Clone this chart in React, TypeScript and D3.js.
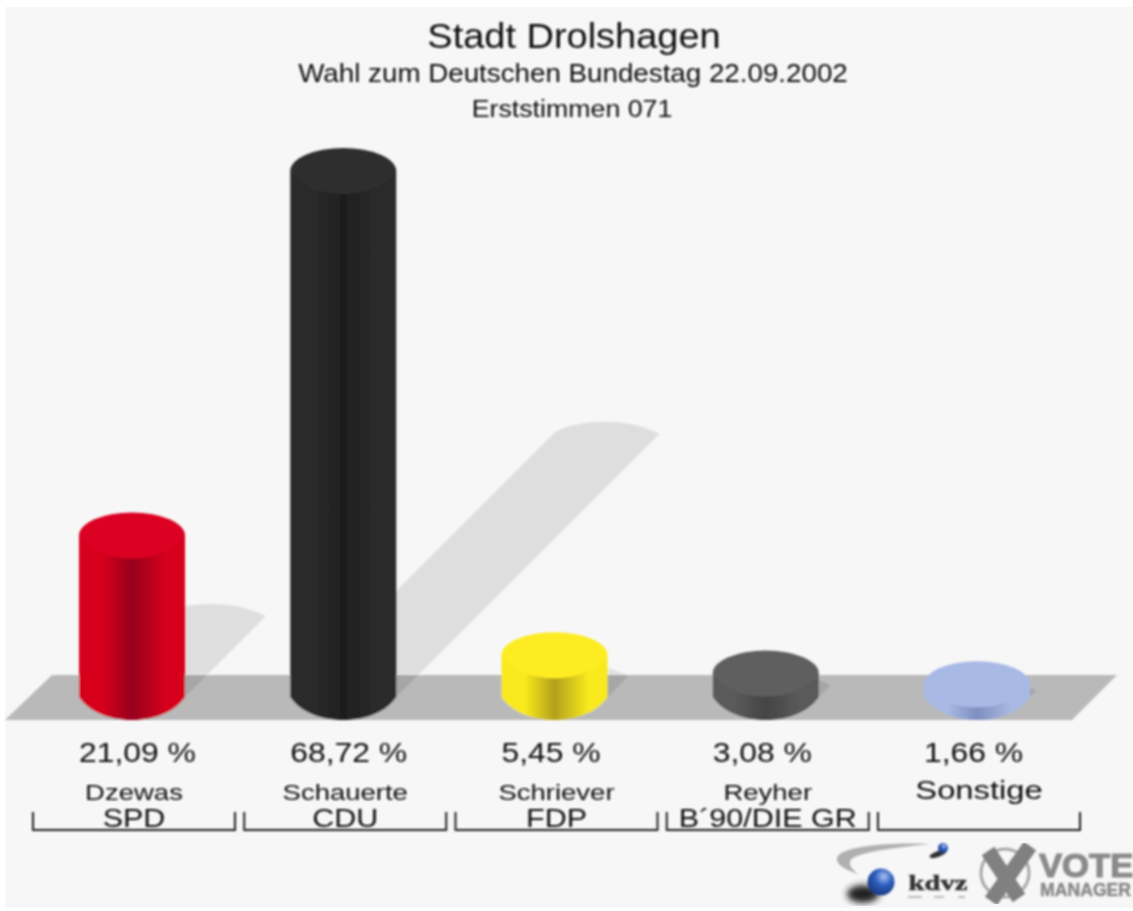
import { useMemo } from "react";
import * as d3 from "d3";

const candidates = ["Dzewas", "Schauerte", "Schriever", "Reyher", "Sonstige"];
const parties = ["SPD", "CDU", "FDP", "B´90/DIE GR", ""];
const shares = [21.09, 68.72, 5.45, 3.08, 1.66];
const shareLabels = ["21,09 %", "68,72 %", "5,45 %", "3,08 %", "1,66 %"];
const topColors = ["#dc0022", "#2f2f2f", "#fdec22", "#5f5f5f", "#a9b9e6"];
const edgeColors = ["#d6001f", "#2b2b2b", "#f8ea1e", "#5a5a5a", "#a9b9e4"];
const coreColors = ["#96001a", "#1e1e1e", "#b3a01e", "#444444", "#7e8fc0"];

const W = 1133;
const H = 911;
const rx = 53;
const ry = 23;
const baseY = 697;
const font = "'Liberation Sans', Arial, sans-serif";

// the original text is stretched sideways, so each label gets its own x scale
function Label({ x, y, size, sx, anchor, children }: any) {
  return (
    <text transform={`translate(${x},${y}) scale(${sx},1)`} fontSize={size} textAnchor={anchor}>
      {children}
    </text>
  );
}

// lower rim: a bit flatter than a true ellipse towards the sides
const bowl = (cx: number, yy: number) =>
  `C${cx - rx * 0.82},${yy + ry * 0.62} ${cx - rx * 0.45},${yy + ry} ${cx},${yy + ry} ` +
  `C${cx + rx * 0.45},${yy + ry} ${cx + rx * 0.82},${yy + ry * 0.62} ${cx + rx},${yy}`;

export default function App() {
  const x = useMemo(() => d3.scalePoint<string>().domain(candidates).range([132, 977]), []);
  const y = useMemo(() => d3.scaleLinear().domain([0, 68.72]).range([baseY, 171]), []);

  return (
    <svg width={W} height={H} viewBox={`0 0 ${W} ${H}`} style={{ position: "absolute", left: 0, top: 0 }}>
      <defs>
        <filter id="soft" x="-5%" y="-5%" width="110%" height="110%">
          <feGaussianBlur stdDeviation="0.8" />
        </filter>
        <filter id="softer" x="-40%" y="-40%" width="180%" height="180%">
          <feGaussianBlur stdDeviation="3" />
        </filter>
        {candidates.map((c, i) => (
          <linearGradient key={c} id={`side${i}`} x1="0" x2="1" y1="0" y2="0">
            <stop offset="0" stopColor={edgeColors[i]} />
            <stop offset="0.22" stopColor={edgeColors[i]} />
            <stop offset="0.5" stopColor={coreColors[i]} />
            <stop offset="0.82" stopColor={edgeColors[i]} />
            <stop offset="1" stopColor={edgeColors[i]} />
          </linearGradient>
        ))}
        <radialGradient id="ball" cx="0.6" cy="0.3" r="0.8">
          <stop offset="0" stopColor="#a9c2ee" />
          <stop offset="0.4" stopColor="#2f5fc0" />
          <stop offset="1" stopColor="#12306f" />
        </radialGradient>
      </defs>

      <rect width={W} height={H} fill="#fff" />
      <rect x={5} y={7} width={W - 5} height={H - 10} fill="#f7f7f7" />

      <g filter="url(#soft)">
        {/* floor */}
        <path d="M5,720 L52,675 L1117,675 L1072,720 Z" fill="#b9b9b9" />

        {/* shadows fall up and to the right, half as long as the bar is tall */}
        {candidates.map((c, i) => {
          const cx = x(c)!;
          const off = (baseY - y(shares[i])) / 2;
          const capY = baseY - off;
          return (
            <path
              key={c}
              d={`M${cx - rx},${baseY} L${cx - rx + off + 2},${capY - 2} C${cx + off - 30},${capY - 14} ${cx + off + 20},${capY - 18} ${cx + rx + off},${capY} L${cx + rx},${baseY} Z`}
              fill="#000"
              fillOpacity={0.1}
            />
          );
        })}

        {/* cylinders */}
        {candidates.map((c, i) => {
          const cx = x(c)!;
          const top = y(shares[i]);
          return (
            <g key={c}>
              <path
                d={`M${cx - rx},${top} L${cx - rx},${baseY} ${bowl(cx, baseY)} L${cx + rx},${top} Z`}
                fill={`url(#side${i})`}
              />
              <path
                d={`M${cx - rx},${top} ${bowl(cx, top)} A${rx},${ry} 0 0 0 ${cx - rx},${top} Z`}
                fill={topColors[i]}
              />
            </g>
          );
        })}

        {/* party brackets */}
        {candidates.map((c) => {
          const cx = x(c)!;
          return (
            <path
              key={c}
              d={`M${cx - 99},812 V830 H${cx + 103} V812`}
              fill="none"
              stroke="#222"
              strokeWidth={2}
            />
          );
        })}
      </g>

      <g fontFamily={font} fill="#111" textAnchor="middle" filter="url(#soft)">
        <Label x={574} y={48} size={35} sx={1.085}>Stadt Drolshagen</Label>
        <Label x={573} y={82} size={26} sx={1.068}>Wahl zum Deutschen Bundestag 22.09.2002</Label>
        <Label x={572} y={117} size={24} sx={1.115}>Erststimmen 071</Label>

        {candidates.map((c, i) => (
          <g key={c}>
            <Label x={x(c)! - 53} y={762} size={27} sx={1.18} anchor="start">{shareLabels[i]}</Label>
            {c === "Sonstige" ? (
              <Label x={x(c)! + 2} y={799} size={26} sx={1.26}>{c}</Label>
            ) : (
              <Label x={x(c)! + 2} y={800} size={22} sx={1.25}>{c}</Label>
            )}
            <Label x={x(c)! + 2} y={827} size={25} sx={1.22}>{parties[i]}</Label>
          </g>
        ))}
      </g>

      {/* kdvz logo */}
      <g filter="url(#soft)">
        <path d="M930,844 C890,842 840,846 837,858 C836,865 846,870 858,874 C850,868 847,862 853,858 C866,851 900,847 930,844 Z" fill="#b0b0b0" />
        <ellipse cx={938} cy={854} rx={9} ry={3} fill="#333" transform="rotate(-20 938 854)" />
        <circle cx={943} cy={848} r={5} fill="url(#ball)" />
        <ellipse cx={863} cy={894} rx={16} ry={9} fill="#222" filter="url(#softer)" />
        <circle cx={881} cy={882} r={13.5} fill="url(#ball)" />
        <text
          transform="translate(938,890) scale(1.3,1)"
          fontFamily="'Liberation Serif', serif"
          fontWeight={700}
          fontSize={22}
          textAnchor="middle"
          fill="#333"
          stroke="#333"
          strokeWidth={0.5}
        >
          kdvz
        </text>
        <path d="M908,897 H922 M934,897 H944 M958,897 H965" stroke="#bbb" strokeWidth={2} fill="none" />
      </g>

      {/* vote manager logo */}
      <g filter="url(#soft)" fill="#8a8a8a" fontFamily={font} fontWeight={700}>
        <circle cx={1005} cy={873} r={24} fill="none" stroke="#a8a8a8" strokeWidth={3} />
        <path d="M988,851 L1019,898 M1030,846 L991,901" stroke="#808080" strokeWidth={15} fill="none" />
        <text transform="translate(1039,877) scale(1.02,1)" fontSize={34} stroke="#8a8a8a" strokeWidth={1.2}>VOTE</text>
        <text transform="translate(1040,896) scale(0.98,1)" fontSize={18} stroke="#8a8a8a" strokeWidth={0.5}>MANAGER</text>
      </g>
    </svg>
  );
}
